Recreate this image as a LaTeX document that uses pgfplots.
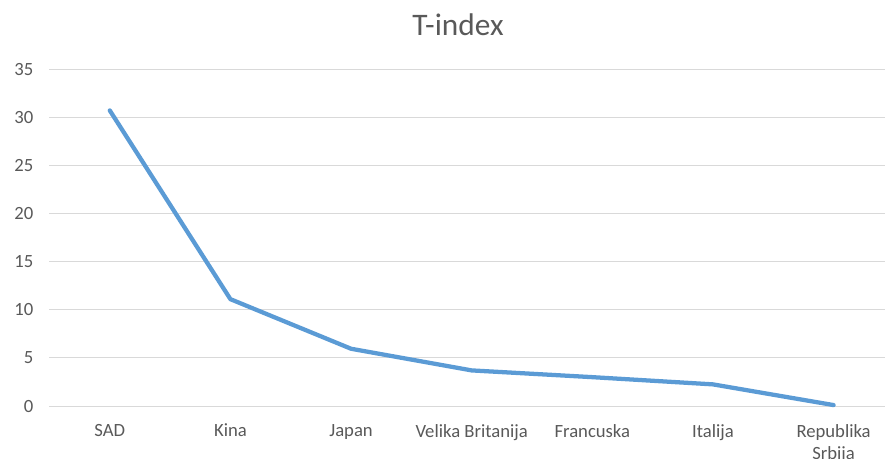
\documentclass[border=0pt]{standalone}
\usepackage{fontspec}
\setmainfont{Carlito}
\usepackage{pgfplots}
\pgfplotsset{compat=1.18}
\definecolor{linecol}{HTML}{5B9BD5}
\definecolor{gridcol}{HTML}{D9D9D9}
\definecolor{txtcol}{HTML}{595959}
\begin{document}
\begin{tikzpicture}[x=0.75pt,y=0.75pt]
\begin{axis}[
  at={(41,55)}, anchor=south west,
  scale only axis,
  width=627pt, height=252.75pt,
  xmin=-0.5, xmax=6.43,
  ymin=0, ymax=35,
  ytick={0,5,...,35},
  xtick={0,...,6},
  xticklabels={SAD,Kina,Japan,Velika Britanija,Francuska,Italija,{Republika\\Srbija}},
  xticklabel style={align=center, font=\fontsize{14}{17}\selectfont, text=txtcol, anchor=north, yshift=-10pt},
  yticklabel style={font=\fontsize{14}{17}\selectfont, text=txtcol, anchor=east, xshift=-8.5pt},
  /pgf/number format/assume math mode=true,
  axis line style={draw=none},
  major tick style={draw=none},
  ymajorgrids, grid style={gridcol, line width=0.75pt},
  clip=false,
]
\addplot[linecol, line width=3.2pt, line join=round, line cap=round] coordinates {
  (0,30.7) (1,11.1) (2,5.95) (3,3.7) (4,3.0) (5,2.25) (6,0.1)
};
\end{axis}
\node[font=\fontsize{23.5}{28}\selectfont, text=txtcol] at (458,434) {T-index};
\pgfresetboundingbox
\path (0,0) rectangle (885,459);
\end{tikzpicture}
\end{document}
